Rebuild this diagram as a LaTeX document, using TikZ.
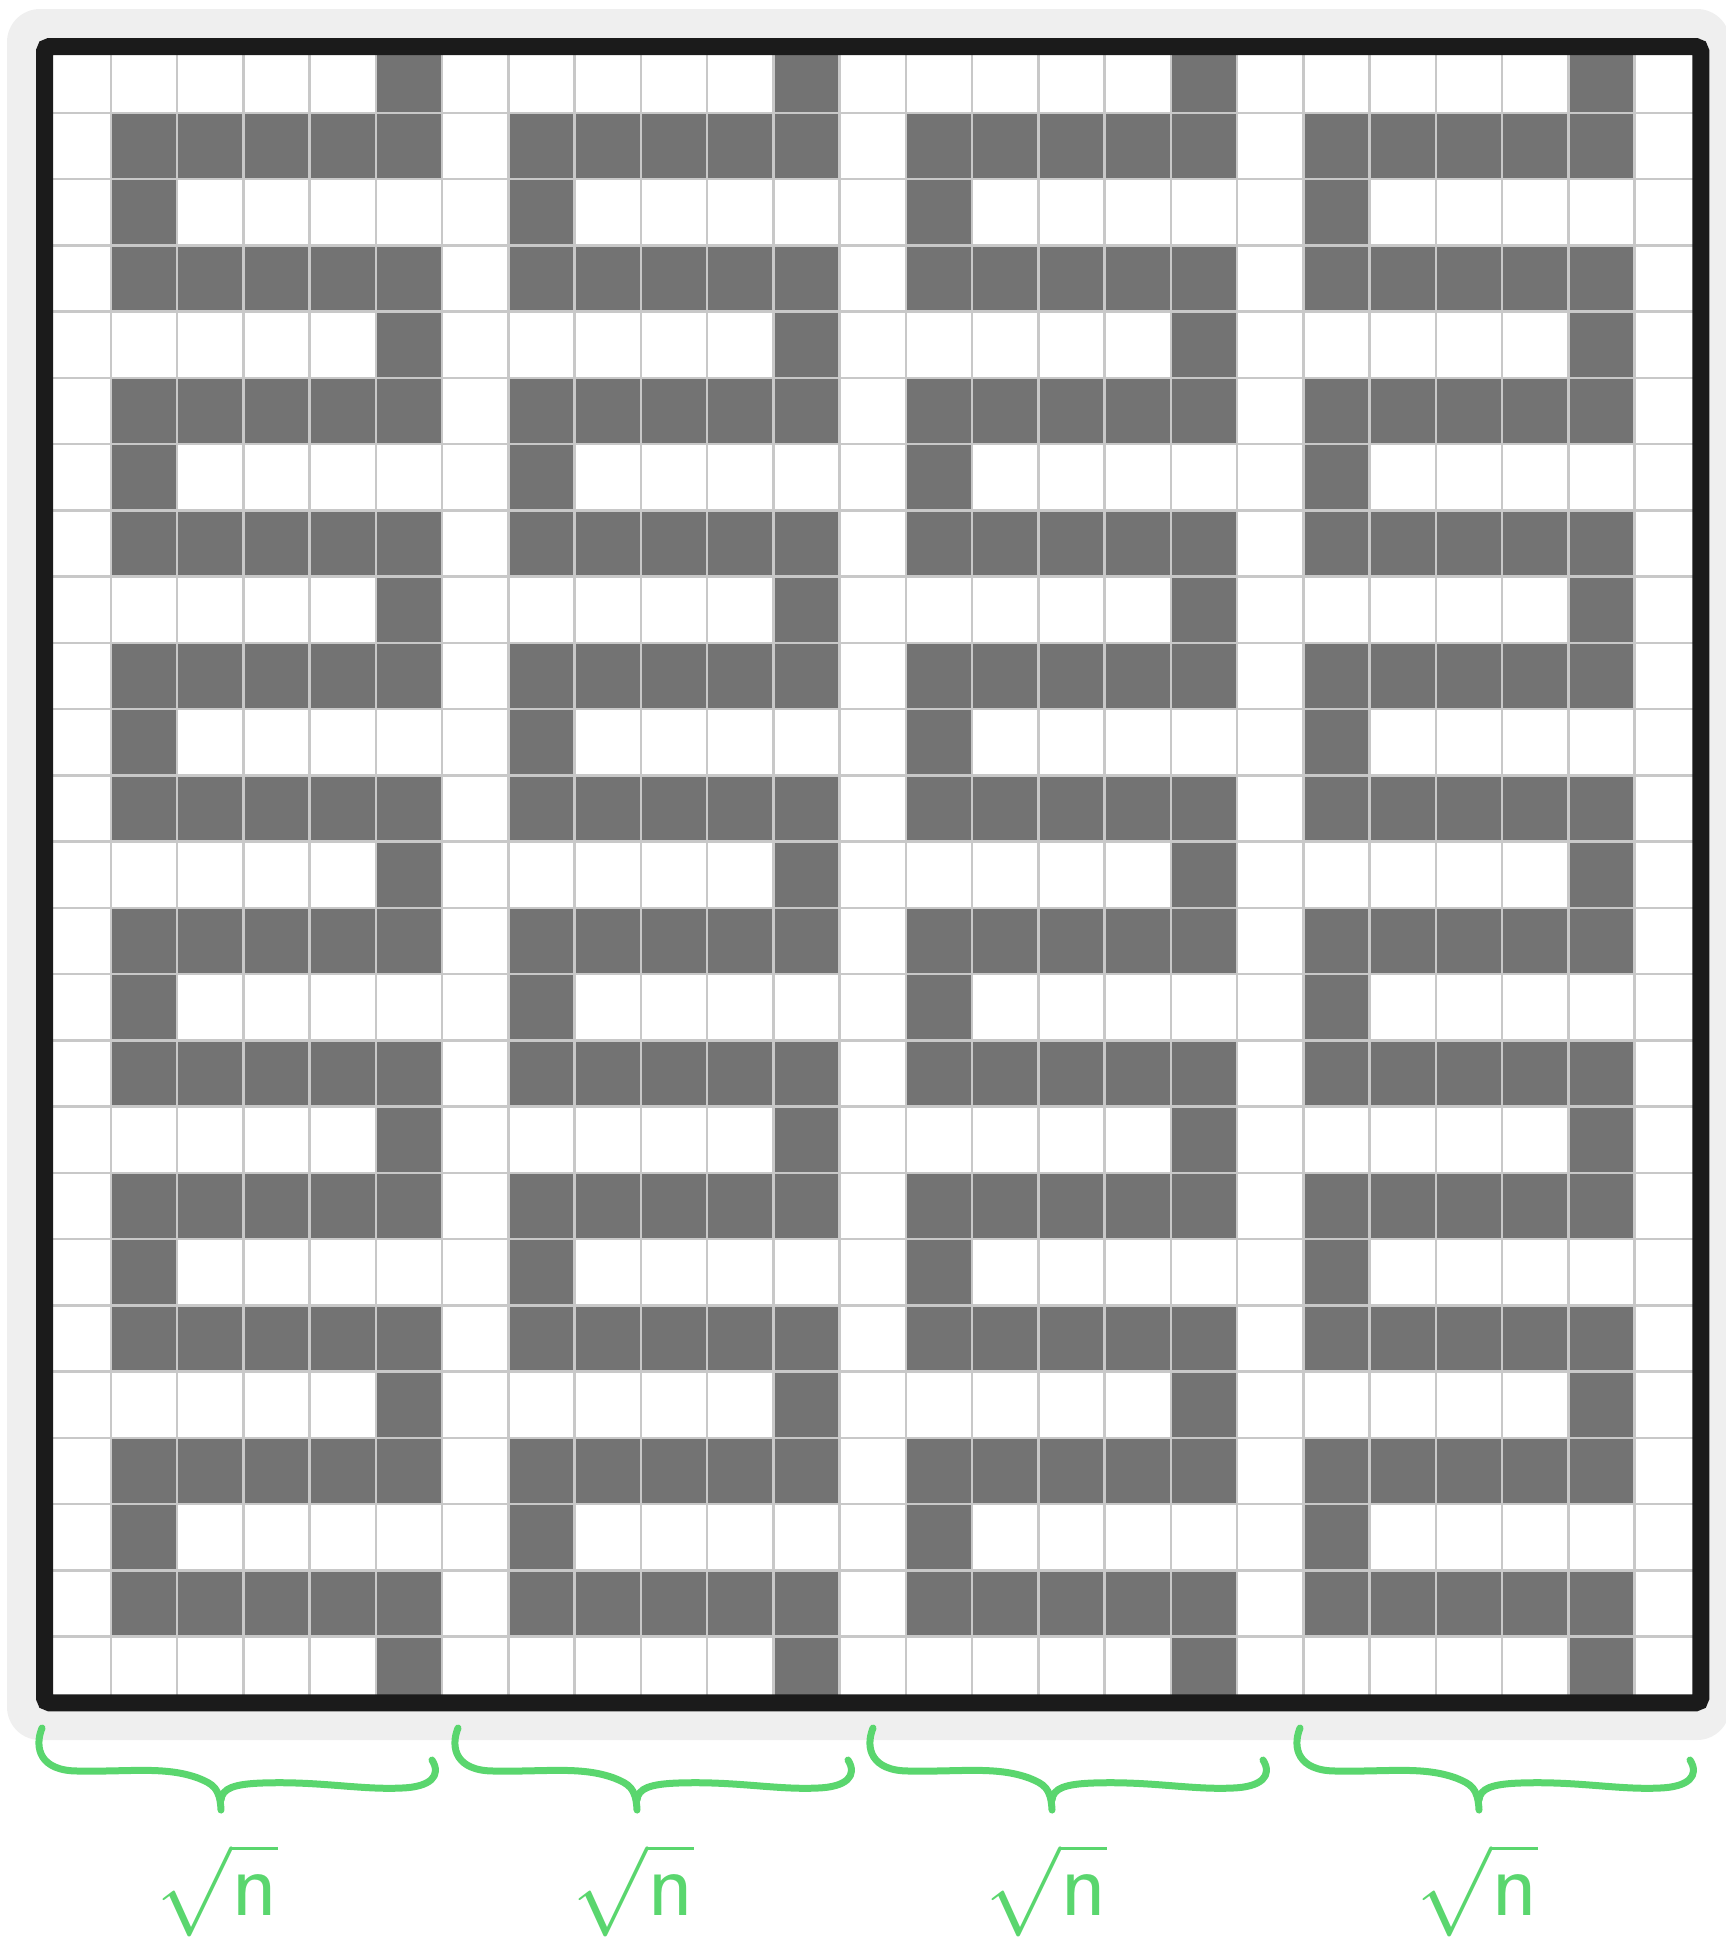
\documentclass[tikz,border=0pt]{standalone}
\definecolor{bggrey}{HTML}{EFEFEF}
\definecolor{cellgrey}{HTML}{737373}
\definecolor{gridgrey}{HTML}{C8C8C8}
\definecolor{frameblack}{HTML}{1B1B1B}
\definecolor{markgreen}{RGB}{90,214,110}
\tikzset{
  cell/.style={fill=cellgrey},
  gridline/.style={draw=gridgrey, line width=2.5pt},
  frameline/.style={draw=frameblack, line width=17pt, rounded corners=5pt},
  bracepen/.style={draw=markgreen, line width=7pt, line cap=round, line join=round},
  rootlabel/.style={text=markgreen, scale=9, inner sep=0pt}
}
\begin{document}
\begin{tikzpicture}[x=1pt,y=-1pt]
\useasboundingbox (0,0) rectangle (1726,1946);
\clip (0,0) rectangle (1726,1946);
\fill[bggrey, rounded corners=33pt] (7,9) rectangle (1730,1740);
\begin{scope}[shift={(44.5,46.5)}, x=66.25pt, y=-66.25pt]
  \fill[white] (0,0) rectangle (25,25);
  \foreach \b in {1,7,13,19}{
    \foreach \r in {1,3,...,23} \fill[cell] (\b,\r) rectangle ++(5,1);
    \foreach \r in {0,4,...,24} \fill[cell] (\b+4,\r) rectangle ++(1,1);
    \foreach \r in {2,6,...,22} \fill[cell] (\b,\r) rectangle ++(1,1);
  }
  \foreach \i in {1,...,24}{
    \draw[gridline] (\i,0) -- (\i,25);
    \draw[gridline] (0,\i) -- (25,\i);
  }
  \draw[frameline] (0,0) rectangle (25,25);
\end{scope}
\foreach \o in {0,416,831,1258}{
  \draw[bracepen, shift={(\o,0)}] (42,1728) .. controls (34,1748) and (40,1771) .. (78,1771)
     .. controls (130,1772) and (165,1766) .. (198,1778)
     .. controls (213,1784) and (220,1788) .. (221,1810);
  \draw[bracepen, shift={(\o,0)}] (221,1800) .. controls (222,1788) and (235,1784) .. (262,1783)
     .. controls (320,1781) and (360,1790) .. (402,1788)
     .. controls (430,1787) and (442,1776) .. (432,1760);
}
\node[rootlabel] (r1) at (217,1890) {$\sqrt{\mathsf{n}}$};
\node[rootlabel] (r2) at (633,1890) {$\sqrt{\mathsf{n}}$};
\node[rootlabel] (r3) at (1046,1890) {$\sqrt{\mathsf{n}}$};
\node[rootlabel] (r4) at (1477,1890) {$\sqrt{\mathsf{n}}$};
\end{tikzpicture}
\end{document}
